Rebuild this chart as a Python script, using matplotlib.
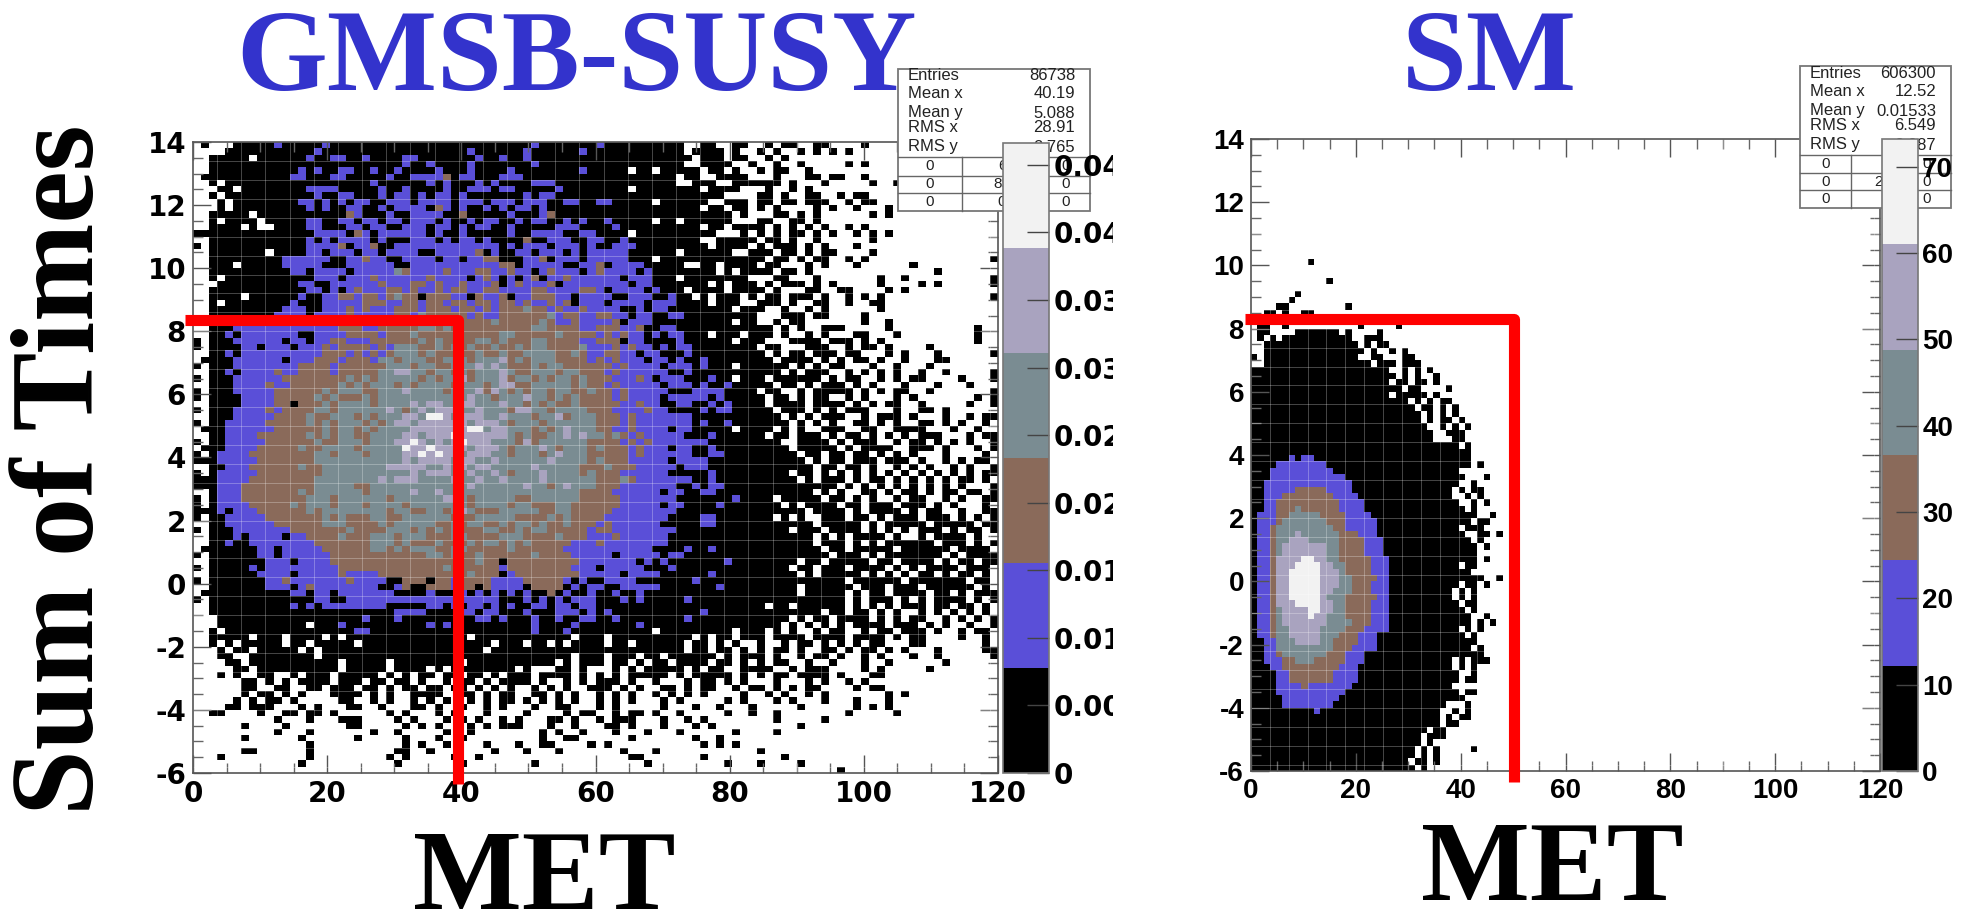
import matplotlib
matplotlib.use('Agg')
import matplotlib.pyplot as plt
from matplotlib.colors import ListedColormap, BoundaryNorm
from matplotlib.patches import Rectangle
from matplotlib.ticker import NullLocator
from matplotlib.transforms import Bbox
import numpy as np

# histogram cells, first row is y=14, one char per bin
# . empty, 1 black, 2 blue, 3 brown, 4 grey-green, 5 lavender, 6 near white
susy_rows = [
".1...11111 2111112111 1111111111 1111111111 1121111111 2111111111 1..11..11. .1.11..11. ...1...... ..........",
"....111111 1111121111 1111111111 1111211111 1211111121 1111111111 1.1111.1.. 1.1..1.1.1 .1........ ..........",
"..11111.11 1111211221 1211112211 1111121121 1211111111 1111111111 11.111.11. .1.1...... .......... ..........",
"..11111111 1111111111 1111112112 1111211111 1121111111 1111111111 1..1111..1 ..1..1.... .1.1...... ..........",
"..11111111 1112121122 1121121111 2111211112 1111111121 1111.11.11 111.11.1.. 1.11..1... .......... ..........",
".111111111 1122111221 1111211222 2312211122 2111111111 1111111111 .11..1111. ..1...11.1 1..1...... ..........",
"..1.111111 1111111111 1121111112 1211121211 1122211111 1111111111 ..111..111 111.1...1. ....1..1.. ..........",
"...11.1111 1111222211 1112112111 1211222122 1111121111 1111.11111 111.1111.. .1..1.1... .......... ..........",
"..1.111111 1111121122 1112122121 2212111111 1212211111 1111111111 111111.... 11.1..11.. 1.11...... ..........",
"...1.11111 1112212121 2211222122 2212221222 1222112211 2211111.11 1111..111. 11.11.111. .1.11..... ..........",
"...1.11111 1111212112 2112122221 3212112121 2212111111 1111111111 111.11.11. 1.1....1.1 ..1...1... ..........",
"..11111.11 1111111113 2111211222 2113111112 1112311111 1111111111 1111111.1. ..11.1.1.. ....1.1... ..........",
"..1.1111.1 1111221122 1221221222 1211212211 2122112121 1211111.11 .111111... 11..11.1.. .......... ..........",
"..1111.1.. 1111221112 2122112221 2212122112 1111122211 1121111111 111.11.111 1.1.1.1.1. .1.1...... ..........",
"1111111111 1111122221 3212222221 2112111112 1122221122 1111.11111 11111...1. 1.1.11.1.1 ..1.1.1... ..........",
"..11111111 1111212122 2212111222 1212212111 1311222112 2112111111 111..11111 .11.1..1.. ....1..... ..........",
"1.11111111 1111222231 2231122222 2222222212 1222122212 1122211111 1111.1111. 1.111.1.1. ..1....... ..........",
"..1111111. 1111221222 1221222211 2222231211 2212221212 2222111111 .111111..1 11.11.1.11 ....1..... ..........",
"..11111111 1222222112 2322112222 1221223311 1223122212 2222111.11 1111111111 1.11.1.11. .1.1...... .........1",
"..111.1111 1222221112 2222211222 2222222233 1222221122 3122221111 1..11.1111 .11...1.1. ..1......1 ..........",
"..11111111 1122122221 2222243222 2322233223 2212322212 3222212111 11111.1.11 11.11.1... .......... ..1.......",
"..1.111111 1111122212 2232222223 2222123212 1231223222 2221222111 .11111111. ..11...1.. .....1..1. .........1",
"...1111111 1112211222 2223222332 3223222312 3222312222 2222122111 1111.1.111 .1.111.1.1 .....1.... 1.1......1",
"..11111111 1111221212 3222332322 3233223322 2233222233 2122221211 1.1111.111 1.1...11.. 11....1.1. ..........",
"..1111.111 1112112233 2332343313 3322132231 2233322122 2211222112 11.1.111.1 .11.111.1. .1.1.1.... .........1",
"..1.111111 1121112222 2333223323 3233233233 2322323122 2122221222 1111.111.. 111.1..11. .1..11.... ..........",
"..11111111 1222112223 2322233323 3323323233 3433232232 2221121221 1111111.11 1..1..1.1. .....1.... ..........",
"..11111111 2222122223 2222233243 3333232233 3333423322 3322122112 2111111111 ...111.11. ...1...... ..........",
"..11111222 2222122223 2222233243 3343333433 3334322322 2231222111 1111111.11 ..1.11.... ...1..1... ..........",
"..11122222 2222222233 3223333344 3433333333 3344333322 3332231122 1111111111 11.1.1..11 1.....1... .......1..",
"..11212222 2221122223 3332333433 3333333344 3333343333 2323221212 2111.111.1 11.1..1.1. ..11...1.. .......1..",
"1.11122222 2122122332 2233333343 4333344343 3344333322 3331221111 2111111.11 1...1111.1 11.1.1.... .......1..",
"1.11112212 2212223233 3323244433 4343433433 4344333342 2232322121 2211111111 .11...111. .1.11.1... .1........",
"..11212222 2222223332 3232344434 3333343343 3444433432 2332212211 1211111111 1.1.11.111 .11...1.1. ..1......1",
".111122222 2122233323 3324434443 3444344453 4344433332 3232221221 2112111111 11.1111.1. 1.11.1..1. ..11......",
"1.11122222 2223333233 3333444344 3344454543 3343443333 3323222212 2212111.11 1111.1.1.1 1...1..1.. .1........",
"..11212222 3223333233 3334455443 4434344454 3344434433 3232222221 1211111111 111.1.111. .1.1.1.1.. 1..1.....1",
"1.11122222 2333333334 3434444434 3445344453 4434344343 3322232122 2111211.11 1.111111.1 .11..1.1.1 1....1...1",
"..11122223 2233333343 4344434344 4434443455 3344444343 3232222212 2212112111 11.11.1.11 1.1.1...1. ..1...1...",
"1.11122222 3333334344 4334445444 4344453543 4344344334 3323222221 1122221111 .11..1.111 11.1.1.11. .1.......1",
"1.11112222 3333343433 3434444444 4444544344 4544343433 3323222212 2222121111 1.11.1.11. .1.1...1.1 .......1.1",
"..11112222 3313334344 4434444545 5445544454 4343433433 3332232211 2211212111 1.1111.111 1.1.1.11.. 1.....1..1",
"1.11122223 2333344344 4444543454 5554454443 5544344443 3322223221 1112122111 11.111.1.1 .111...1.. 11.1......",
"..11122222 3333433444 3434445546 6545554454 4434453444 3332322222 2211111111 111.1.1.11 1..1.111.1 ...1..1.11",
"1.11222223 3333434344 4343455455 5555455543 4443444444 3332322222 2212112111 1111.1.1.1 ..11.1.1.. 11.1.1..1.",
".111222222 3333334344 3434444555 5555664554 4434345444 3322322221 2211111.11 11.1.1..11 1..11..111 1...1..1..",
"..11222233 3333434344 3344445545 5565555554 3433445454 4343232222 2111211111 1.11.111.1 .11.1.1.1. 111...1.11",
"1.11222223 3333343344 4344455654 5456555444 3534444443 3332323222 2222111111 111..1111. 1.111..1.1 1.1.1.1..1",
".111222233 3334334444 3444446556 5555455543 4445434443 4333232221 2211211111 1111.11111 .1.1111..1 11.1...1.1",
"1.12222333 3333344344 4344445565 6554555443 4443454443 3333232222 2211221111 11111.11.1 1.11.1.1.1 ...1....1.",
"1112222233 3333344444 4444445455 5545544544 4444544443 4333222221 2222111111 111111.1.1 1.111.111. 1..1.1.11.",
"..11222333 3334334444 4444555554 4545455444 4454444433 3433322222 1222111111 1111111.11 .11.1..1.1 .1..1.1..1",
"1.12222233 3333334444 4444444545 5544544543 4445444434 3332222221 1111211111 1111.11.1. 1.1.1.1.1. 1.1.1.1.11",
"1112222333 3333344444 4445455544 4454454454 4445444444 3334322222 2211211111 11111.1.11 1.1.11.1.1 .1.1.11.1.",
"1112223333 3333344444 3344444444 4444544444 4544345444 3332222222 1121221111 1111111111 .1.1.1.1.1 .1.1.1...1",
"..12223333 3334344444 4344444544 5444444444 4444444433 3322222212 2112211111 1111111.1. 1..11.1.11 .1.11.11.1",
"1.12223333 3333444344 4444344444 4554344444 3344444433 3332222222 1111111211 11.11111.1 1.1.1..1.1 1..1.1..11",
"1.12222333 3343444344 4344443444 4444344443 4433344333 3332222212 2111121111 111.1.1111 .11.111.11 1.1.1...1.",
"1112122233 3333434444 4444344334 4345433344 4443344333 3322222222 1111111111 111111.111 1.1.1111.1 .11..1..11",
"1.11222223 3333334343 3344334444 4433344444 3333434333 3222222221 1112211111 11.1.1..11 1.11.1.111 .111.1.1.1",
"..11222222 3333334443 3334344444 3343443343 4434334333 2322222211 1112211111 1111111.11 111.1.1111 1.11111.11",
"1.11122222 2233333334 3333444343 4343334433 4344333332 3322222222 1111111111 1111.111.1 111.1.1.1. 111.1.11.1",
"..11121222 2122333343 3344434443 3344333344 4333343332 2232222221 1111111111 1111111.1. 1.1111.1.. 1.1111.1..",
"..11211222 2222233333 3344434333 4333434434 3433333222 3222222221 1111111111 1111111.11 1.1.1.1111 11.111.1.1",
".111111122 1222223333 3344343444 3344333334 3333332222 2222222111 1211211111 11111111.1 1.11111.11 1111.1111.",
"1.11111122 1222222333 3333333334 4343343333 3343333222 2212222212 2111111111 111111111. 111.1.1111 111.1.1111",
"..11111112 2212222333 3333333333 3333343313 3333333322 2222212121 1111112111 11111.11.1 1111.11.11 11.1.11.11",
"1.11111212 2222222233 3333333333 3433333323 3333333222 1222221112 1111111111 1111.11.11 1.1111.1.1 .1111.111.",
"..11111122 2212222232 2223333333 3333433312 3333333322 2221222211 1111211111 11111.1.11 111.1.1.1. 11.1.11.1.",
"1.11111112 2322222223 2222113331 3323333222 2333332121 1222211111 1121111111 1111111111 1.111111.1 111111.11.",
"..11111112 2212322222 2221123113 3323313222 2133331212 2112222211 1111121111 11111.1111 11.111.111 .111111.1.",
".111111111 1122122122 2222211112 1112121212 1211312112 1121121111 1111111111 11111.1111 1.1.11.111 1.11.1.111",
"1.11111111 1111122112 2222222222 2222222211 1212121222 1112121111 1211111111 1111111111 1.1.111.1. 1.1111.1.1",
"..11111111 1121212222 2222111112 2121221212 1122122122 1111111111 1111111111 1.11.11111 1.1.1.1.11 1.11.11.1.",
"..11111111 1111111111 1111122221 1112212211 1211122212 1211111111 1112111111 11111111.1 1.11.1.1.. 1.1.1.1.1.",
"...1111111 1111111111 1211121111 1111122121 1121121122 1121111111 1211111111 1111.1.11. 1111.1.1.1 1..1.1.1.1",
"...1111111 1111.11121 1111111112 1211111111 1121111211 1111121111 1111111111 111.1.1.1. 1.1111.111 .1.1..1..1",
"..1.111111 1111111111 2211111111 1111111111 1121112111 1111111.11 1111111.11 1.1.1..1.1 1..1.11.11 1.1..1.11.",
"..11111.11 1.1111.1.1 1111111111 1111.11111 1111111.11 1.11111111 11.1.11.11 1.1111.111 1.1111.1.1 1....1..1.",
"..1.1.1111 1.11.11111 .111111111 1111111.11 1.11.1.111 1.11.11111 1.11.1.1.. 1..1.11.1. 1.1.11...1 1.......1.",
"...1.11.11 111.1.1111 1111111111 111111.111 1111111111 1111111111 1.11.11.1. 1.11.1..11 .1.11.1.1. ..1.....11",
"...11..111 11111.1111 1111111111 1111111111 1111111.11 1.111.11.1 11111.1.11 1.1..1.11. 1..1.1...1 ..1......1",
"....11.111 11111111.1 1111.11111 111.111111 11111.1.11 1.11.1.11. 1111.11.1. 1.11..1..1 ...1..1... ...1......",
".....11.11 11111111.1 1111.1111. 1.11111111 .1...11.1. ..1.1.1111 1.1.11..11 11..1.111. ...1.1.... .1........",
"...1.1..11 ..1.111.11 111.1.1.11 .11.11.1.1 11.1111.1. 1.1.11111. 1.11111.1. 1.11.1111. 1...11.... ..........",
"......11.1 .1.1111.11 1.11.11.1. .1.11.1.11 11.1..1.1. 111.1..1.. .1.11.1.1. ..1...1.1. .1.1...... ..........",
"......11.. 11..11.111 .11.1.11.1 1.11.1.1.1 ..1.1.1..1 11.1.1..11 .1.11..1.1 1.1.1.11.. ..1.11.... ..........",
"......1.11 .1.1...111 1.1.1..111 1..11.1.11 ..11.1.1.. 1.1.1..1.1 .1.1....1. .1.1..1.1. ......1.1. ..........",
".....1.1.1 1.1.....11 ..1.1..1.1 .1..1.1.11 .1.1.1.1.. 1.1.1...1. 1.....1.1. ..1.1...1. ..1...1... ..........",
"....11.111 ...1.1...1 1..1...11. 1..1..1.1. ..1..11... 1.1.....1. ..1..1...1 .....1.... ..1.1.1... ..........",
"..11....1. .11.11.1.. ....1.1... 1.1...1... .1....1.11 ..1.11.1.. 1.....1..1 ..1....... .1.....1.. ..........",
".......... 1...1...11 1....1.1.. .1.1.1..1. 1...11.1.. 1.111...1. .1.1...... ..1.....1. .......... ..........",
"......1... .1.......1 1.....1.1. 1...1.1.11 1...1..1.. .11.1...1. ..1.1..... .....1.... .......... ..........",
".......... 1...1..... ..1..1.... .1..1..... ...1.1..1. ..1...1... 1......1.. ..1....... .......... ..........",
"......1... ...1...... 1.....1... 1..1...... ...1..11.. ....1..... ..1..1.... .......... .......... ..........",
".......... ....1..... ......1.1. .1....1... 1..11....1 .1........ ...1.1.1.. .......... .......... ..........",
"......11.. ....1..... .....11..1 .......1.. .1...1.... ...1...1.. .......... 1......... .......... ..........",
"...1...... ....1..... ....1.1... ..1..1.... .......... ....11.... ...1...... ...1...... .......... ..........",
".......... ...1...... .....1.... ...1...... ..1....... ......1... ......1... 1....1.... .......... ..........",
".......... .......... .......... .......... .......... .......... .......... .......... 1......... ..........",
]

# same coding, only the filled columns are written
sm_rows = [
"", "", "", "", "", "", "", "", "", "",
"", "", "", "", "", "", "", "", "", ".........1",
"", "", ".......... ..1", "", ".......1", "......1",
"....11.... .....1", "..11.1..11", "..111.11.1", ".11..1.... .......1.. ...1",
".11....111 1111.1.... 1",
".1.1.11111 111111..11 1",
"..11111111 1111111.1. 11",
"..11111111 11111111.1 ..1.1",
"1.11111111 1111111..1 1...11",
"..11111111 111111111. 111.111",
"1111111111 1111111111 11..1.1.1",
"1111111111 1111111111 111.1.1..1",
"1111111111 1111111111 11.11.11.1",
"1111111111 1111111111 1111.11....1",
"1111111111 1111111111 11.11111.1",
"1111111111 1111111111 11111.1.1.11",
"1111111111 1111111111 111111.11.1.1",
"1111111111 1111111111 1111111.1.1.1",
"1111111111 1111111111 1111111.1.11.1",
"1111111111 1111111111 11111111..1.1.1",
"1111111111 1111111111 111111111..111",
"1111111111 1111111111 111111111...11",
"1111111111 1111111111 1111111111111.1",
"1111111111 1111111111 1111111111 11111",
"1111112122 1111111111 1111111111 11111",
"1111222222 2211111111 1111111111 11111.1",
"1112222222 2221111111 1111111111 111",
"1112222222 2222211111 1111111111 1111...1",
"1122222222 2222221111 1111111111 111..1",
"1122222333 3322221111 1111111111 11.1.11",
"1122233333 3332222111 1111111111 11..1.1",
"1122333333 3333222211 1111111111 111..1.1",
"1122333433 3333222211 1111111111 1111.1",
"1222334444 4333322221 1111111111 111111..1",
"1222344444 4433322222 1111111111 11111.11",
"1223444444 4443322222 1111111111 111.111",
"1223444544 4444333222 1111111111 1111..11.1",
"1223445554 4444333322 2111111111 11111.1",
"1223455555 5544333322 2111111111 111111.1",
"1223455555 5544333322 2111111111 111111",
"1223555566 5544333332 2211111111 111111.1",
"1223555666 6554433332 2211111111 111.11",
"1223556666 6555433332 2211111111 11111",
"1223556666 6555443333 2211111111 1111111..1",
"1223556666 6555443332 2211111111 111.11.1",
"1223556666 6554443332 2211111111 11.1.1",
"1223556666 6544433333 2211111111 11.1.1",
"1223555666 6554433332 2211111111 111.11",
"1223455556 6554433332 2211111111 1111.1",
"1223455556 5544433332 2211111111 11111..1",
"1223455555 5544443332 2211111111 11111.1.1",
"1223445555 5444433322 2211111111 111.1.1",
"1223445555 5444333222 1111111111 1111.1",
"1122444555 5443333222 1111111111 111111",
"1122444444 4443332222 1111111111 11111.1",
"1122344444 4433322211 1111111111 1111111",
"1122233444 3333322211 1111111111 11.1.111",
"1112233333 3333222111 1111111111 11.1.1",
"1111223333 3332222111 1111111111 111..1",
"1111223333 3332222111 1111111111 111.11",
"1111222232 2222221111 1111111111 11",
"1111222222 2222211111 1111111111 111.11",
"1111122222 2222111111 1111111111 1111",
"1111122222 2221111111 1111111111 1...1",
"1111111111 2111111111 1111111111 ..1.1",
"1111111111 1111111111 1111111111 .1.11",
"1111111111 1111111111 1111111111 .11",
"1111111111 1111111111 11111111.1 1",
"1111111111 1111111111 1111111.11 1",
"1111111111 1111111111 1111111.1",
"1111111111 1111111111 111111.1.1.....1",
"1111111111 1111111111 111111.1.1",
"1111111111 1111111111 11111.11.1",
"1111111111 1111111111 111111.1",
"1111111111 1111111111 111111.1.1",
]

x_bin_edges = np.linspace(0, 120, 101)
y_bin_edges = np.linspace(14, -6, 101)

susy_levels = [0, 0.00777, 0.01554, 0.02331, 0.03108, 0.03885, 0.04662]
sm_levels = [0, 12.2, 24.4, 36.6, 48.8, 61.0, 73.2]
level_colors = ['#000000', '#5a4fd8', '#8a6a5a', '#7a8c92', '#a9a3bf', '#f2f2f2']

susy_cbar_ticks = [0, 0.005, 0.01, 0.015, 0.02, 0.025, 0.03, 0.035, 0.04, 0.045]
sm_cbar_ticks = [0, 10, 20, 30, 40, 50, 60, 70]

susy_stats = [('Entries', '86738'), ('Mean x', '40.19'), ('Mean y', '5.088'),
              ('RMS x', '28.91'), ('RMS y', '2.765')]
sm_stats = [('Entries', '606300'), ('Mean x', '12.52'), ('Mean y', '0.01533'),
            ('RMS x', '6.549'), ('RMS y', '2.087')]
susy_table = [('0', '6', '0'), ('0', '85', '0'), ('0', '0', '0')]
sm_table = [('0', '0', '0'), ('0', '2577', '0'), ('0', '6', '0')]

susy_cut = (39.5, 8.36)
sm_cut = (50.2, 8.30)

W, H = 1967, 915
plt.rcParams['axes.unicode_minus'] = False
plt.rcParams['font.family'] = ['Liberation Sans', 'DejaVu Sans']


def px_axes(fig, x0, y0, x1, y1, **kw):
    # pixel box measured from the top left of the image
    return fig.add_axes([x0 / W, 1 - y1 / H, (x1 - x0) / W, (y1 - y0) / H], **kw)


def rows_to_z(rows, levels):
    mids = [(levels[i] + levels[i + 1]) / 2 for i in range(6)]
    z = np.full((100, 100), np.nan)
    for j, row in enumerate(rows[:100]):
        row = row.replace(' ', '').ljust(100, '.')[:100]
        for i, c in enumerate(row):
            if c != '.':
                z[j, i] = mids[int(c) - 1]
    return z


def draw_hist(fig, box, rows, levels, cut, family):
    ax = px_axes(fig, *box, zorder=1)
    cmap = ListedColormap(level_colors)
    norm = BoundaryNorm(levels, 6)
    mesh = ax.pcolormesh(x_bin_edges, y_bin_edges, rows_to_z(rows, levels),
                         cmap=cmap, norm=norm)
    ax.vlines(x_bin_edges[::3], -6, 14, color='white', lw=0.7, alpha=0.28)
    ax.hlines(y_bin_edges[::3], 0, 120, color='white', lw=0.7, alpha=0.28)
    ax.set_xlim(0, 120)
    ax.set_ylim(-6, 14)
    ax.set_xticks(np.arange(0, 121, 20))
    ax.set_yticks(np.arange(-6, 15, 2))
    ax.set_xticks(np.arange(0, 121, 5), minor=True)
    ax.set_yticks(np.arange(-6, 14.1, 0.5), minor=True)
    ax.tick_params(which='major', direction='in', length=13, width=1, color='#555555',
                   top=True, right=True, labelsize=20, pad=5)
    ax.tick_params(which='minor', direction='in', length=7, width=1, color='#666666',
                   top=True, right=True)
    for t in ax.get_xticklabels() + ax.get_yticklabels():
        t.set_family(family)
        t.set_fontweight('bold')
    for s in ax.spines.values():
        s.set_color('#555555')
        s.set_linewidth(1.2)
    ax.plot([-1.2, cut[0], cut[0]], [cut[1], cut[1], -6.35], color='#ff0000', lw=8,
            clip_on=False, solid_joinstyle='round', solid_capstyle='butt', zorder=5)
    return mesh


def draw_cbar(fig, box, mesh, ticks, labels, family, clip_right=None):
    cax = px_axes(fig, *box, zorder=3)
    cb = fig.colorbar(mesh, cax=cax, spacing='proportional')
    cb.set_ticks(ticks)
    cb.set_ticklabels(labels)
    cax.yaxis.set_minor_locator(NullLocator())
    cax.tick_params(axis='y', direction='in', length=16, width=1, color='#444444',
                    labelsize=20, pad=3, right=True, left=False)
    cb.outline.set_edgecolor('#777777')
    cb.outline.set_linewidth(1.2)
    for t in cax.get_yticklabels():
        t.set_family(family)
        t.set_fontweight('bold')
        if clip_right is not None:
            t.set_clip_on(True)
            t.set_clip_box(Bbox.from_extents(0, 0, clip_right, H))


def draw_stats(pix, x0, x1, y0, rule_ys, y1, xmid, stats, table, text_ys):
    pix.add_patch(Rectangle((x0, y0), x1 - x0, y1 - y0, fc='white', ec='#777777', lw=1.3))
    for y in rule_ys:
        pix.plot([x0, x1], [y, y], color='#666666', lw=1)
    pix.plot([xmid, xmid], [rule_ys[0], y1], color='#666666', lw=1)
    for (name, val), y in zip(stats, text_ys):
        pix.text(x0 + 10, y, name, fontsize=12, va='center', ha='left', color='#222222')
        pix.text(x1 - 15, y, val, fontsize=12, va='center', ha='right', color='#222222')
    edges = list(rule_ys) + [y1]
    for k, row in enumerate(table):
        yc = (edges[k] + edges[k + 1]) / 2
        pix.text((x0 + xmid) / 2, yc, row[0], fontsize=11, ha='center', va='center', color='#222222')
        pix.text(xmid + 40, yc, row[1], fontsize=11, ha='center', va='center', color='#222222')
        pix.text(x1 - 24, yc, row[2], fontsize=11, ha='center', va='center', color='#222222')


fig = plt.figure(figsize=(W / 100, H / 100), dpi=100, facecolor='white')

serif = ['Liberation Serif', 'DejaVu Serif']
fig.text(576 / W, 1 - 90 / H, 'GMSB-SUSY', color='#3333cc', fontsize=84, family=serif,
         fontweight='bold', ha='center', va='baseline', zorder=0.5)
fig.text(1489 / W, 1 - 90 / H, 'SM', color='#3333cc', fontsize=84, family=serif,
         fontweight='bold', ha='center', va='baseline', zorder=0.5)
fig.text(93 / W, 1 - 470 / H, 'Sum of Times', color='black', fontsize=85, family=serif,
         fontweight='bold', rotation=90, rotation_mode='anchor', ha='center', va='baseline')
fig.text(544 / W, 1 - 909 / H, 'MET', color='black', fontsize=83, family=serif,
         fontweight='bold', ha='center', va='baseline')
fig.text(1552 / W, 1 - 900 / H, 'MET', color='black', fontsize=83, family=serif,
         fontweight='bold', ha='center', va='baseline')

mesh1 = draw_hist(fig, (193, 142, 998, 773), susy_rows, susy_levels, susy_cut,
                  ['DejaVu Sans'])
mesh2 = draw_hist(fig, (1251, 139, 1880, 771), sm_rows, sm_levels, sm_cut,
                  ['Liberation Sans'])

pix = fig.add_axes([0, 0, 1, 1], zorder=2)
pix.set_xlim(0, W)
pix.set_ylim(H, 0)
pix.axis('off')
draw_stats(pix, 898, 1090, 69, (157, 176, 193), 211, 962, susy_stats, susy_table,
           (76, 94, 113, 127, 147))
draw_stats(pix, 1800, 1951, 66, (155, 173, 190), 208, 1851, sm_stats, sm_table,
           (74, 91, 111, 125, 145))

draw_cbar(fig, (1003, 143, 1049, 773), mesh1, susy_cbar_ticks,
          [str(v) for v in susy_cbar_ticks], ['DejaVu Sans'], clip_right=1113)
draw_cbar(fig, (1882, 139, 1918, 771), mesh2, sm_cbar_ticks,
          [str(v) for v in sm_cbar_ticks], ['Liberation Sans'])

fig.savefig('out.png', dpi=100)
